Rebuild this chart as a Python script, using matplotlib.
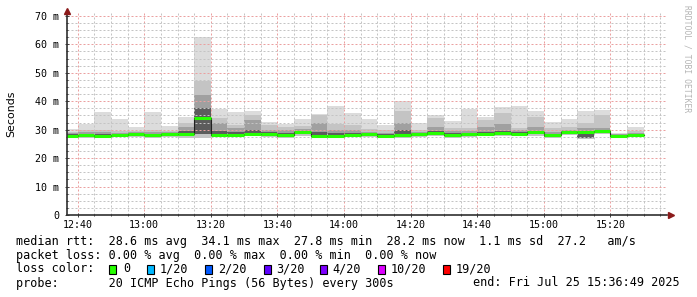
import matplotlib
matplotlib.use("Agg")
import matplotlib.pyplot as plt
from matplotlib.patches import Rectangle

# 5-minute bins (start time of each bin)
bin_start = ["12:35", "12:40", "12:45", "12:50", "12:55", "13:00", "13:05",
             "13:10", "13:15", "13:20", "13:25", "13:30", "13:35", "13:40",
             "13:45", "13:50", "13:55", "14:00", "14:05", "14:10", "14:15",
             "14:20", "14:25", "14:30", "14:35", "14:40", "14:45", "14:50",
             "14:55", "15:00", "15:05", "15:10", "15:15", "15:20", "15:25"]

# median rtt per bin (ms)
median = [27.8, 28.0, 27.8, 28.2, 28.3, 28.0, 28.5, 28.3, 34.1, 28.0, 28.2, 28.6,
          28.5, 28.2, 29.0, 27.8, 27.9, 28.1, 28.4, 27.9, 28.0, 28.4, 28.9, 28.1,
          28.3, 28.5, 28.8, 28.6, 29.0, 28.0, 29.1, 29.0, 29.5, 27.8, 28.1]

# smoke bands (ms): outer -> inner
smoke_top = [30.1, 32.0, 36.2, 33.7, 31.1, 36.2, 31.4, 34.5, 62.4, 37.4, 36.1, 36.6,
             32.7, 32.0, 33.9, 35.5, 38.3, 35.8, 33.9, 31.8, 40.1, 32.2, 35.2, 33.2,
             37.4, 34.5, 37.8, 38.3, 36.6, 32.7, 33.9, 36.6, 37.0, 28.9, 30.9]
band2_top = [29.3, 29.9, 30.0, 29.5, 29.6, 30.0, 29.6, 32.3, 47.0, 34.0, 31.7, 35.2,
             31.7, 30.9, 31.4, 35.0, 32.0, 31.5, 30.3, 29.8, 36.4, 30.0, 34.0, 30.5,
             30.5, 33.4, 35.8, 30.5, 34.6, 30.5, 31.0, 32.2, 35.2, 28.6, 29.5]
band3_top = [28.8, 29.0, 29.0, 28.9, 29.0, 29.2, 29.0, 31.0, 42.2, 32.3, 30.6, 33.4,
             30.0, 29.8, 30.3, 32.5, 30.0, 30.0, 29.3, 28.9, 32.5, 29.2, 31.0, 29.6,
             29.6, 31.0, 32.0, 29.8, 31.0, 29.3, 30.0, 30.5, 30.5, 28.3, 28.8]
band4_top = [28.3, 28.5, 28.4, 28.6, 28.7, 28.6, 28.8, 29.5, 37.5, 29.5, 29.2, 30.0,
             29.2, 28.9, 29.6, 29.0, 28.8, 28.9, 28.9, 28.4, 30.0, 28.9, 29.6, 28.7,
             28.9, 29.3, 29.5, 29.1, 29.6, 28.6, 29.6, 29.6, 30.0, 28.1, 28.5]
smoke_bottom = [27.0, 27.0, 27.0, 27.3, 27.4, 27.2, 27.5, 27.2, 27.0, 27.3, 27.3, 27.7,
                27.4, 27.0, 27.9, 27.0, 27.0, 27.3, 27.5, 27.0, 27.1, 27.5, 27.9, 27.2,
                27.4, 27.6, 27.8, 27.7, 27.9, 27.1, 28.0, 26.7, 28.4, 27.2, 27.4]
inner_bottom = [27.4, 27.5, 27.1, 27.7, 27.8, 27.6, 27.8, 27.6, 28.5, 27.6, 27.7, 28.1,
                27.9, 27.3, 28.4, 27.4, 27.4, 27.6, 27.9, 27.4, 27.5, 27.9, 28.4, 27.6,
                27.8, 28.0, 28.2, 28.1, 28.4, 27.5, 28.5, 27.2, 28.8, 27.4, 27.7]

window = ("12:36:49", "15:36:49")
xtick_labels = ["12:40", "13:00", "13:20", "13:40", "14:00", "14:20", "14:40", "15:00", "15:20"]
ytick_values = [0, 10, 20, 30, 40, 50, 60, 70]
ytick_labels = ["0", "10 m", "20 m", "30 m", "40 m", "50 m", "60 m", "70 m"]

loss_labels = ["0", "1/20", "2/20", "3/20", "4/20", "10/20", "19/20"]
loss_colors = ["#26ff00", "#00b8ff", "#0059ff", "#5e00ff", "#7e00ff", "#dd00ff", "#ff0000"]

legend_lines = [
    "median rtt:  28.6 ms avg  34.1 ms max  27.8 ms min  28.2 ms now  1.1 ms sd  27.2   am/s",
    "packet loss: 0.00 % avg  0.00 % max  0.00 % min  0.00 % now",
]
probe_text = "probe:       20 ICMP Echo Pings (56 Bytes) every 300s"
end_text = "end: Fri Jul 25 15:36:49 2025"


def to_min(s):
    parts = [int(p) for p in s.split(":")]
    m = parts[0] * 60 + parts[1]
    if len(parts) > 2:
        m += parts[2] / 60.0
    return m


MONO = "DejaVu Sans Mono"
W, H = 697, 297
LEG_SIZE = 8.5

starts = [to_min(s) for s in bin_start]
ends = [s + 5 for s in starts]

fig = plt.figure(figsize=(W / 100, H / 100), dpi=100)
fig.patch.set_facecolor("white")
ax = fig.add_axes([67 / W, (H - 215) / H, (666.5 - 67) / W, (215 - 13) / H])

# smoke
bands = [(smoke_bottom, smoke_top, "#dcdcdc"),
         (smoke_bottom, band2_top, "#c4c4c4"),
         (inner_bottom, band3_top, "#a0a0a0"),
         (inner_bottom, band4_top, "#5c5c5c")]
for lo, hi, col in bands:
    heights = [h - l for l, h in zip(lo, hi)]
    ax.bar(starts, heights, width=5, bottom=lo, align="edge", color=col,
           linewidth=0, zorder=1)

# median: dark step line plus green segments
ax.step(starts + [ends[-1]], median + [median[-1]], where="post",
        color="#202020", lw=0.8, zorder=3)
ax.hlines(median, starts, ends, colors=loss_colors[0], lw=2.2, zorder=4)

ax.set_xlim(to_min(window[0]), to_min(window[1]))
ax.set_ylim(0, 71)

ax.set_xticks([to_min(t) for t in xtick_labels])
ax.set_xticklabels(xtick_labels, family=MONO, fontsize=7.2)
ax.set_xticks(range(760, 936, 5), minor=True)
ax.set_yticks(ytick_values)
ax.set_yticklabels(ytick_labels, family=MONO, fontsize=7.2)
ax.set_yticks([v * 2.5 for v in range(0, 29)], minor=True)

ax.tick_params(which="major", direction="inout", length=3, width=0.7,
               color="#404040", labelcolor="black", pad=2)
ax.tick_params(which="minor", direction="inout", length=2, width=0.7,
               color="#404040")
ax.tick_params(axis="y", which="major", pad=4)

ax.set_axisbelow(False)
ax.grid(which="minor", color="#c4c4c4", linestyle=(0, (2, 2)), lw=0.72)
ax.grid(which="major", color="#eba0a0", linestyle=(0, (2, 2)), lw=0.72)

for side in ("top", "right"):
    ax.spines[side].set_visible(False)
for side in ("left", "bottom"):
    ax.spines[side].set_color("#303030")
    ax.spines[side].set_linewidth(1.2)
    ax.spines[side].set_zorder(5)

# axis arrows
ax.plot([0], [1.012], marker="^", markersize=4, color="#8b1a1a",
        transform=ax.transAxes, clip_on=False, zorder=6)
ax.plot([1.008], [0], marker=">", markersize=4, color="#8b1a1a",
        transform=ax.transAxes, clip_on=False, zorder=6)

fig.text(11 / W, 1 - 114 / H, "Seconds", rotation=90, ha="center", va="center",
         fontsize=7.9, family="DejaVu Sans")
fig.text(687 / W, 1 - 5 / H, "RRDTOOL / TOBI OETIKER", rotation=270, ha="center",
         va="top", fontsize=5.8, family=MONO, color="#b4b4b4")


def legend_text(x, y, s, ha="left"):
    fig.text(x / W, 1 - y / H, s, ha=ha, va="center", fontsize=LEG_SIZE, family=MONO)


legend_text(16, 241, legend_lines[0])
legend_text(16, 255, legend_lines[1])

legend_text(16, 269, "loss color:")
box_x = [109, 147, 205, 264, 320, 378, 443]
label_x = [123, 160, 218, 276, 332, 391, 456]
for bx, lx, lab, col in zip(box_x, label_x, loss_labels, loss_colors):
    fig.add_artist(Rectangle((bx / W, 1 - 273.5 / H), 7 / W, 9 / H,
                             transform=fig.transFigure, facecolor=col,
                             edgecolor="black", linewidth=0.8))
    legend_text(lx, 269, lab)

legend_text(16, 283, probe_text)
legend_text(680, 283, end_text, ha="right")

fig.savefig("out.png", dpi=100)
